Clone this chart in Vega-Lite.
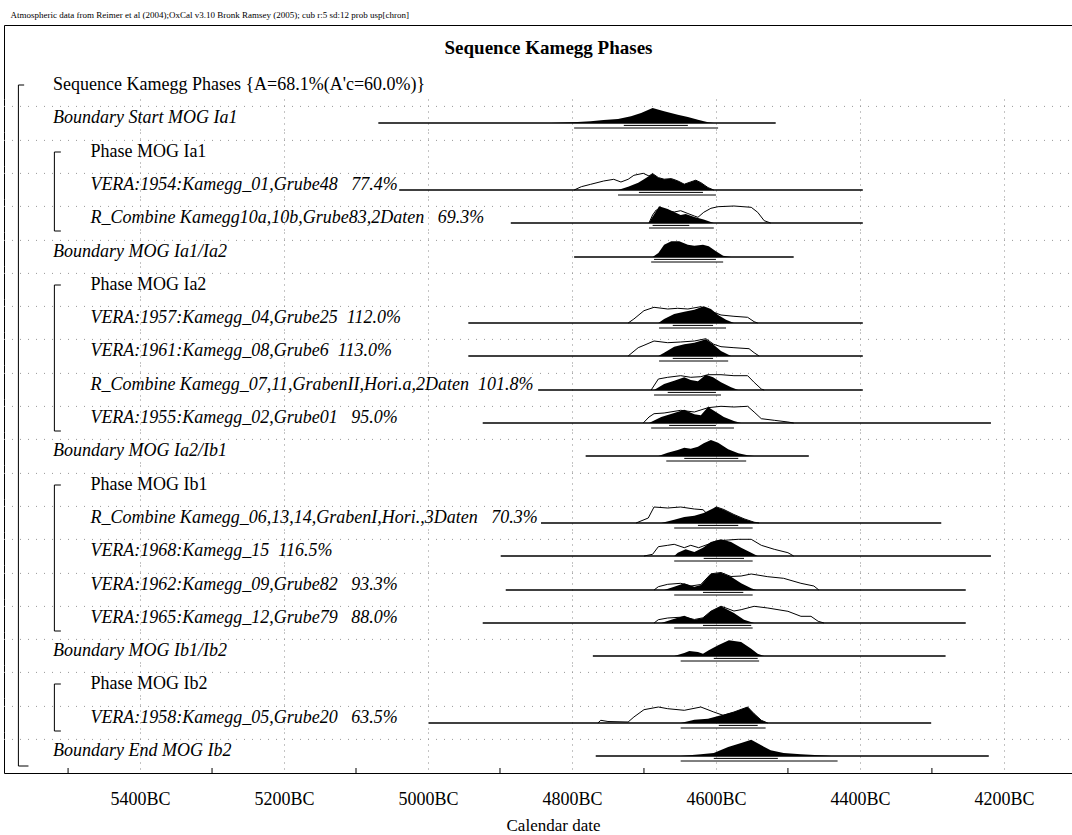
{
"$schema":"https://vega.github.io/schema/vega-lite/v6.json",
"padding":{"left":3,"top":11,"right":0,"bottom":0},
"title":{"text":"Atmospheric data from Reimer et al (2004);OxCal v3.10 Bronk Ramsey (2005); cub r:5 sd:12 prob usp[chron]","anchor":"start","fontSize":9,"fontWeight":"normal","font":"Liberation Serif","color":"black","offset":5,"dx":7},
"spacing":0,
"bounds":"flush",
"resolve":{"scale":{"x":"independent","y":"independent"}},
"config":{"font":"Liberation Serif","view":{"stroke":null},"mark":{"color":"black"},
"axisX":{"grid":true,"gridColor":"#888","gridDash":[1,5],"labels":false,"ticks":false,"domain":false},
"axisY":{"grid":false,"labels":false,"ticks":false,"domain":true,"domainColor":"black"}},
"datasets":{"all":[
{"r":0,"k":"lab","name":"Sequence Kamegg Phases {A=68.1%(A'c=60.0%)}"},
{"r":1,"k":"lab","name":"Boundary Start MOG Ia1"},
{"r":2,"k":"lab","name":"Phase MOG Ia1"},
{"r":3,"k":"lab","name":"VERA:1954:Kamegg_01,Grube48\u00a0\u00a0\u00a077.4%"},
{"r":4,"k":"lab","name":"R_Combine Kamegg10a,10b,Grube83,2Daten\u00a0\u00a0\u00a069.3%"},
{"r":5,"k":"lab","name":"Boundary MOG Ia1/Ia2"},
{"r":6,"k":"lab","name":"Phase MOG Ia2"},
{"r":7,"k":"lab","name":"VERA:1957:Kamegg_04,Grube25\u00a0\u00a0112.0%"},
{"r":8,"k":"lab","name":"VERA:1961:Kamegg_08,Grube6\u00a0\u00a0113.0%"},
{"r":9,"k":"lab","name":"R_Combine Kamegg_07,11,GrabenII,Hori.a,2Daten\u00a0\u00a0101.8%"},
{"r":10,"k":"lab","name":"VERA:1955:Kamegg_02,Grube01\u00a0\u00a0\u00a095.0%"},
{"r":11,"k":"lab","name":"Boundary MOG Ia2/Ib1"},
{"r":12,"k":"lab","name":"Phase MOG Ib1"},
{"r":13,"k":"lab","name":"R_Combine Kamegg_06,13,14,GrabenI,Hori.,3Daten\u00a0\u00a0\u00a070.3%"},
{"r":14,"k":"lab","name":"VERA:1968:Kamegg_15\u00a0\u00a0116.5%"},
{"r":15,"k":"lab","name":"VERA:1962:Kamegg_09,Grube82\u00a0\u00a0\u00a093.3%"},
{"r":16,"k":"lab","name":"VERA:1965:Kamegg_12,Grube79\u00a0\u00a0\u00a088.0%"},
{"r":17,"k":"lab","name":"Boundary MOG Ib1/Ib2"},
{"r":18,"k":"lab","name":"Phase MOG Ib2"},
{"r":19,"k":"lab","name":"VERA:1958:Kamegg_05,Grube20\u00a0\u00a0\u00a063.5%"},
{"r":20,"k":"lab","name":"Boundary End MOG Ib2"},

{"r":1,"k":"post","bc":4829,"p":0},{"r":1,"k":"post","bc":4792,"p":0.05},{"r":1,"k":"post","bc":4774,"p":0.085},{"r":1,"k":"post","bc":4756,"p":0.15},{"r":1,"k":"post","bc":4736,"p":0.2},{"r":1,"k":"post","bc":4718,"p":0.335},{"r":1,"k":"post","bc":4704,"p":0.5},{"r":1,"k":"post","bc":4688,"p":0.75},{"r":1,"k":"post","bc":4672,"p":0.585},{"r":1,"k":"post","bc":4653,"p":0.415},{"r":1,"k":"post","bc":4639,"p":0.3},{"r":1,"k":"post","bc":4625,"p":0.165},{"r":1,"k":"post","bc":4611,"p":0.035},{"r":1,"k":"post","bc":4603,"p":0},
{"r":1,"k":"base","bc":5069,"bc2":4517},{"r":1,"k":"r68","bc":4728,"bc2":4639},{"r":1,"k":"r95","bc":4797,"bc2":4597},

{"r":3,"k":"post","bc":4736,"p":0},{"r":3,"k":"post","bc":4722,"p":0.165},{"r":3,"k":"post","bc":4708,"p":0.365},{"r":3,"k":"post","bc":4700,"p":0.535},{"r":3,"k":"post","bc":4688,"p":0.815},{"r":3,"k":"post","bc":4680,"p":0.615},{"r":3,"k":"post","bc":4672,"p":0.535},{"r":3,"k":"post","bc":4662,"p":0.565},{"r":3,"k":"post","bc":4653,"p":0.45},{"r":3,"k":"post","bc":4644,"p":0.285},{"r":3,"k":"post","bc":4635,"p":0.4},{"r":3,"k":"post","bc":4628,"p":0.485},{"r":3,"k":"post","bc":4621,"p":0.365},{"r":3,"k":"post","bc":4611,"p":0.115},{"r":3,"k":"post","bc":4603,"p":0},
{"r":3,"k":"prior","bc":4797,"p":0},{"r":3,"k":"prior","bc":4787,"p":0.165},{"r":3,"k":"prior","bc":4774,"p":0.285},{"r":3,"k":"prior","bc":4756,"p":0.45},{"r":3,"k":"prior","bc":4742,"p":0.535},{"r":3,"k":"prior","bc":4732,"p":0.4},{"r":3,"k":"prior","bc":4722,"p":0.535},{"r":3,"k":"prior","bc":4714,"p":0.735},{"r":3,"k":"prior","bc":4701,"p":0.835},{"r":3,"k":"prior","bc":4693,"p":0.7},{"r":3,"k":"prior","bc":4688,"p":0.82},{"r":3,"k":"prior","bc":4680,"p":0.62},{"r":3,"k":"prior","bc":4672,"p":0.54},{"r":3,"k":"prior","bc":4662,"p":0.57},{"r":3,"k":"prior","bc":4653,"p":0.455},{"r":3,"k":"prior","bc":4644,"p":0.29},{"r":3,"k":"prior","bc":4635,"p":0.405},{"r":3,"k":"prior","bc":4628,"p":0.49},{"r":3,"k":"prior","bc":4621,"p":0.37},{"r":3,"k":"prior","bc":4611,"p":0.12},{"r":3,"k":"prior","bc":4603,"p":0},
{"r":3,"k":"base","bc":5040,"bc2":4396},{"r":3,"k":"r68","bc":4707,"bc2":4618},{"r":3,"k":"r95","bc":4736,"bc2":4600},

{"r":4,"k":"post","bc":4693,"p":0},{"r":4,"k":"post","bc":4690,"p":0.2},{"r":4,"k":"post","bc":4683,"p":0.6},{"r":4,"k":"post","bc":4679,"p":0.835},{"r":4,"k":"post","bc":4667,"p":0.7},{"r":4,"k":"post","bc":4655,"p":0.5},{"r":4,"k":"post","bc":4649,"p":0.4},{"r":4,"k":"post","bc":4642,"p":0.45},{"r":4,"k":"post","bc":4630,"p":0.3},{"r":4,"k":"post","bc":4617,"p":0.175},{"r":4,"k":"post","bc":4603,"p":0},
{"r":4,"k":"prior","bc":4693,"p":0},{"r":4,"k":"prior","bc":4688,"p":0.4},{"r":4,"k":"prior","bc":4683,"p":0.65},{"r":4,"k":"prior","bc":4675,"p":0.65},{"r":4,"k":"prior","bc":4667,"p":0.6},{"r":4,"k":"prior","bc":4658,"p":0.55},{"r":4,"k":"prior","bc":4649,"p":0.615},{"r":4,"k":"prior","bc":4639,"p":0.475},{"r":4,"k":"prior","bc":4630,"p":0.35},{"r":4,"k":"prior","bc":4625,"p":0.285},{"r":4,"k":"prior","bc":4617,"p":0.535},{"r":4,"k":"prior","bc":4607,"p":0.735},{"r":4,"k":"prior","bc":4597,"p":0.815},{"r":4,"k":"prior","bc":4575,"p":0.85},{"r":4,"k":"prior","bc":4551,"p":0.785},{"r":4,"k":"prior","bc":4542,"p":0.535},{"r":4,"k":"prior","bc":4533,"p":0.115},{"r":4,"k":"prior","bc":4524,"p":0},
{"r":4,"k":"base","bc":4885,"bc2":4396},{"r":4,"k":"r68","bc":4688,"bc2":4637},{"r":4,"k":"r95","bc":4693,"bc2":4603},

{"r":5,"k":"post","bc":4688,"p":0},{"r":5,"k":"post","bc":4680,"p":0.2},{"r":5,"k":"post","bc":4672,"p":0.615},{"r":5,"k":"post","bc":4662,"p":0.785},{"r":5,"k":"post","bc":4651,"p":0.785},{"r":5,"k":"post","bc":4639,"p":0.615},{"r":5,"k":"post","bc":4630,"p":0.565},{"r":5,"k":"post","bc":4618,"p":0.615},{"r":5,"k":"post","bc":4610,"p":0.535},{"r":5,"k":"post","bc":4600,"p":0.285},{"r":5,"k":"post","bc":4590,"p":0.065},{"r":5,"k":"post","bc":4579,"p":0},
{"r":5,"k":"base","bc":4797,"bc2":4492},{"r":5,"k":"r68","bc":4686,"bc2":4600},{"r":5,"k":"r95","bc":4690,"bc2":4590},

{"r":7,"k":"post","bc":4680,"p":0},{"r":7,"k":"post","bc":4672,"p":0.2},{"r":7,"k":"post","bc":4658,"p":0.45},{"r":7,"k":"post","bc":4644,"p":0.565},{"r":7,"k":"post","bc":4630,"p":0.665},{"r":7,"k":"post","bc":4617,"p":0.835},{"r":7,"k":"post","bc":4607,"p":0.7},{"r":7,"k":"post","bc":4597,"p":0.4},{"r":7,"k":"post","bc":4586,"p":0.165},{"r":7,"k":"post","bc":4575,"p":0},
{"r":7,"k":"prior","bc":4722,"p":0},{"r":7,"k":"prior","bc":4714,"p":0.2},{"r":7,"k":"prior","bc":4700,"p":0.615},{"r":7,"k":"prior","bc":4686,"p":0.785},{"r":7,"k":"prior","bc":4667,"p":0.7},{"r":7,"k":"prior","bc":4653,"p":0.735},{"r":7,"k":"prior","bc":4639,"p":0.7},{"r":7,"k":"prior","bc":4621,"p":0.815},{"r":7,"k":"prior","bc":4603,"p":0.535},{"r":7,"k":"prior","bc":4593,"p":0.4},{"r":7,"k":"prior","bc":4575,"p":0.335},{"r":7,"k":"prior","bc":4556,"p":0.285},{"r":7,"k":"prior","bc":4547,"p":0.065},{"r":7,"k":"prior","bc":4542,"p":0},
{"r":7,"k":"base","bc":4944,"bc2":4396},{"r":7,"k":"r68","bc":4660,"bc2":4604},{"r":7,"k":"r95","bc":4679,"bc2":4586},

{"r":8,"k":"post","bc":4680,"p":0},{"r":8,"k":"post","bc":4672,"p":0.165},{"r":8,"k":"post","bc":4658,"p":0.465},{"r":8,"k":"post","bc":4644,"p":0.585},{"r":8,"k":"post","bc":4630,"p":0.665},{"r":8,"k":"post","bc":4614,"p":0.835},{"r":8,"k":"post","bc":4604,"p":0.585},{"r":8,"k":"post","bc":4593,"p":0.25},{"r":8,"k":"post","bc":4579,"p":0},
{"r":8,"k":"prior","bc":4722,"p":0},{"r":8,"k":"prior","bc":4708,"p":0.415},{"r":8,"k":"prior","bc":4700,"p":0.535},{"r":8,"k":"prior","bc":4686,"p":0.75},{"r":8,"k":"prior","bc":4667,"p":0.665},{"r":8,"k":"prior","bc":4649,"p":0.7},{"r":8,"k":"prior","bc":4630,"p":0.75},{"r":8,"k":"prior","bc":4614,"p":0.865},{"r":8,"k":"prior","bc":4603,"p":0.585},{"r":8,"k":"prior","bc":4593,"p":0.465},{"r":8,"k":"prior","bc":4575,"p":0.415},{"r":8,"k":"prior","bc":4554,"p":0.365},{"r":8,"k":"prior","bc":4547,"p":0.165},{"r":8,"k":"prior","bc":4540,"p":0},
{"r":8,"k":"base","bc":4944,"bc2":4396},{"r":8,"k":"r68","bc":4660,"bc2":4604},{"r":8,"k":"r95","bc":4679,"bc2":4583},

{"r":9,"k":"post","bc":4686,"p":0},{"r":9,"k":"post","bc":4672,"p":0.3},{"r":9,"k":"post","bc":4658,"p":0.465},{"r":9,"k":"post","bc":4644,"p":0.635},{"r":9,"k":"post","bc":4635,"p":0.5},{"r":9,"k":"post","bc":4625,"p":0.435},{"r":9,"k":"post","bc":4614,"p":0.765},{"r":9,"k":"post","bc":4604,"p":0.635},{"r":9,"k":"post","bc":4593,"p":0.385},{"r":9,"k":"post","bc":4579,"p":0.135},{"r":9,"k":"post","bc":4569,"p":0},
{"r":9,"k":"prior","bc":4690,"p":0},{"r":9,"k":"prior","bc":4680,"p":0.55},{"r":9,"k":"prior","bc":4667,"p":0.635},{"r":9,"k":"prior","bc":4649,"p":0.715},{"r":9,"k":"prior","bc":4635,"p":0.635},{"r":9,"k":"prior","bc":4621,"p":0.665},{"r":9,"k":"prior","bc":4611,"p":0.765},{"r":9,"k":"prior","bc":4593,"p":0.765},{"r":9,"k":"prior","bc":4575,"p":0.715},{"r":9,"k":"prior","bc":4556,"p":0.715},{"r":9,"k":"prior","bc":4547,"p":0.385},{"r":9,"k":"prior","bc":4537,"p":0.05},{"r":9,"k":"prior","bc":4533,"p":0},
{"r":9,"k":"base","bc":4847,"bc2":4396},{"r":9,"k":"r68","bc":4667,"bc2":4600},{"r":9,"k":"r95","bc":4686,"bc2":4593},

{"r":10,"k":"post","bc":4693,"p":0},{"r":10,"k":"post","bc":4676,"p":0.3},{"r":10,"k":"post","bc":4658,"p":0.5},{"r":10,"k":"post","bc":4644,"p":0.665},{"r":10,"k":"post","bc":4630,"p":0.435},{"r":10,"k":"post","bc":4621,"p":0.385},{"r":10,"k":"post","bc":4611,"p":0.8},{"r":10,"k":"post","bc":4600,"p":0.55},{"r":10,"k":"post","bc":4589,"p":0.3},{"r":10,"k":"post","bc":4575,"p":0.1},{"r":10,"k":"post","bc":4565,"p":0},
{"r":10,"k":"prior","bc":4701,"p":0},{"r":10,"k":"prior","bc":4693,"p":0.3},{"r":10,"k":"prior","bc":4686,"p":0.465},{"r":10,"k":"prior","bc":4672,"p":0.5},{"r":10,"k":"prior","bc":4649,"p":0.635},{"r":10,"k":"prior","bc":4630,"p":0.55},{"r":10,"k":"prior","bc":4611,"p":0.765},{"r":10,"k":"prior","bc":4593,"p":0.835},{"r":10,"k":"prior","bc":4575,"p":0.8},{"r":10,"k":"prior","bc":4556,"p":0.835},{"r":10,"k":"prior","bc":4547,"p":0.55},{"r":10,"k":"prior","bc":4537,"p":0.215},{"r":10,"k":"prior","bc":4519,"p":0.135},{"r":10,"k":"prior","bc":4500,"p":0.05},{"r":10,"k":"prior","bc":4492,"p":0},
{"r":10,"k":"base","bc":4924,"bc2":4218},{"r":10,"k":"r68","bc":4665,"bc2":4600},{"r":10,"k":"r95","bc":4690,"bc2":4575},

{"r":11,"k":"post","bc":4680,"p":0},{"r":11,"k":"post","bc":4667,"p":0.165},{"r":11,"k":"post","bc":4653,"p":0.3},{"r":11,"k":"post","bc":4644,"p":0.415},{"r":11,"k":"post","bc":4635,"p":0.365},{"r":11,"k":"post","bc":4625,"p":0.465},{"r":11,"k":"post","bc":4617,"p":0.635},{"r":11,"k":"post","bc":4607,"p":0.8},{"r":11,"k":"post","bc":4597,"p":0.665},{"r":11,"k":"post","bc":4583,"p":0.335},{"r":11,"k":"post","bc":4569,"p":0.135},{"r":11,"k":"post","bc":4556,"p":0.035},{"r":11,"k":"post","bc":4547,"p":0},
{"r":11,"k":"base","bc":4781,"bc2":4471},{"r":11,"k":"r68","bc":4644,"bc2":4569},{"r":11,"k":"r95","bc":4669,"bc2":4558},

{"r":13,"k":"post","bc":4676,"p":0},{"r":13,"k":"post","bc":4658,"p":0.165},{"r":13,"k":"post","bc":4644,"p":0.3},{"r":13,"k":"post","bc":4630,"p":0.365},{"r":13,"k":"post","bc":4617,"p":0.5},{"r":13,"k":"post","bc":4600,"p":0.8},{"r":13,"k":"post","bc":4589,"p":0.665},{"r":13,"k":"post","bc":4575,"p":0.415},{"r":13,"k":"post","bc":4561,"p":0.2},{"r":13,"k":"post","bc":4547,"p":0.035},{"r":13,"k":"post","bc":4540,"p":0},
{"r":13,"k":"prior","bc":4711,"p":0},{"r":13,"k":"prior","bc":4694,"p":0.25},{"r":13,"k":"prior","bc":4686,"p":0.8},{"r":13,"k":"prior","bc":4667,"p":0.75},{"r":13,"k":"prior","bc":4649,"p":0.8},{"r":13,"k":"prior","bc":4630,"p":0.7},{"r":13,"k":"prior","bc":4618,"p":0.665},{"r":13,"k":"prior","bc":4611,"p":0.415},{"r":13,"k":"prior","bc":4607,"p":0.55},{"r":13,"k":"prior","bc":4600,"p":0.81},{"r":13,"k":"prior","bc":4589,"p":0.675},{"r":13,"k":"prior","bc":4575,"p":0.425},{"r":13,"k":"prior","bc":4561,"p":0.21},{"r":13,"k":"prior","bc":4547,"p":0.04},{"r":13,"k":"prior","bc":4540,"p":0},
{"r":13,"k":"base","bc":4843,"bc2":4287},{"r":13,"k":"r68","bc":4625,"bc2":4569},{"r":13,"k":"r95","bc":4658,"bc2":4549},

{"r":14,"k":"post","bc":4658,"p":0},{"r":14,"k":"post","bc":4653,"p":0.165},{"r":14,"k":"post","bc":4642,"p":0.335},{"r":14,"k":"post","bc":4630,"p":0.2},{"r":14,"k":"post","bc":4618,"p":0.415},{"r":14,"k":"post","bc":4607,"p":0.7},{"r":14,"k":"post","bc":4593,"p":0.835},{"r":14,"k":"post","bc":4579,"p":0.7},{"r":14,"k":"post","bc":4565,"p":0.415},{"r":14,"k":"post","bc":4551,"p":0.165},{"r":14,"k":"post","bc":4542,"p":0},
{"r":14,"k":"prior","bc":4700,"p":0},{"r":14,"k":"prior","bc":4688,"p":0.085},{"r":14,"k":"prior","bc":4680,"p":0.465},{"r":14,"k":"prior","bc":4667,"p":0.535},{"r":14,"k":"prior","bc":4658,"p":0.585},{"r":14,"k":"prior","bc":4644,"p":0.415},{"r":14,"k":"prior","bc":4635,"p":0.535},{"r":14,"k":"prior","bc":4624,"p":0.415},{"r":14,"k":"prior","bc":4611,"p":0.585},{"r":14,"k":"prior","bc":4600,"p":0.75},{"r":14,"k":"prior","bc":4583,"p":0.8},{"r":14,"k":"prior","bc":4569,"p":0.835},{"r":14,"k":"prior","bc":4551,"p":0.835},{"r":14,"k":"prior","bc":4537,"p":0.535},{"r":14,"k":"prior","bc":4519,"p":0.335},{"r":14,"k":"prior","bc":4500,"p":0.165},{"r":14,"k":"prior","bc":4492,"p":0},
{"r":14,"k":"base","bc":4899,"bc2":4218},{"r":14,"k":"r68","bc":4617,"bc2":4561},{"r":14,"k":"r95","bc":4658,"bc2":4549},

{"r":15,"k":"post","bc":4672,"p":0},{"r":15,"k":"post","bc":4658,"p":0.165},{"r":15,"k":"post","bc":4644,"p":0.335},{"r":15,"k":"post","bc":4630,"p":0.165},{"r":15,"k":"post","bc":4621,"p":0.25},{"r":15,"k":"post","bc":4607,"p":0.8},{"r":15,"k":"post","bc":4593,"p":0.865},{"r":15,"k":"post","bc":4579,"p":0.665},{"r":15,"k":"post","bc":4565,"p":0.335},{"r":15,"k":"post","bc":4551,"p":0.085},{"r":15,"k":"post","bc":4544,"p":0},
{"r":15,"k":"prior","bc":4686,"p":0},{"r":15,"k":"prior","bc":4680,"p":0.165},{"r":15,"k":"prior","bc":4667,"p":0.285},{"r":15,"k":"prior","bc":4649,"p":0.335},{"r":15,"k":"prior","bc":4635,"p":0.2},{"r":15,"k":"prior","bc":4621,"p":0.275},{"r":15,"k":"prior","bc":4607,"p":0.81},{"r":15,"k":"prior","bc":4593,"p":0.875},{"r":15,"k":"prior","bc":4579,"p":0.675},{"r":15,"k":"prior","bc":4565,"p":0.7},{"r":15,"k":"prior","bc":4551,"p":0.8},{"r":15,"k":"prior","bc":4528,"p":0.665},{"r":15,"k":"prior","bc":4506,"p":0.585},{"r":15,"k":"prior","bc":4482,"p":0.335},{"r":15,"k":"prior","bc":4464,"p":0.2},{"r":15,"k":"prior","bc":4457,"p":0},
{"r":15,"k":"base","bc":4892,"bc2":4253},{"r":15,"k":"r68","bc":4618,"bc2":4562},{"r":15,"k":"r95","bc":4658,"bc2":4549},

{"r":16,"k":"post","bc":4676,"p":0},{"r":16,"k":"post","bc":4662,"p":0.165},{"r":16,"k":"post","bc":4644,"p":0.365},{"r":16,"k":"post","bc":4630,"p":0.165},{"r":16,"k":"post","bc":4618,"p":0.25},{"r":16,"k":"post","bc":4607,"p":0.585},{"r":16,"k":"post","bc":4593,"p":0.835},{"r":16,"k":"post","bc":4575,"p":0.5},{"r":16,"k":"post","bc":4561,"p":0.165},{"r":16,"k":"post","bc":4547,"p":0},
{"r":16,"k":"prior","bc":4686,"p":0},{"r":16,"k":"prior","bc":4680,"p":0.165},{"r":16,"k":"prior","bc":4667,"p":0.25},{"r":16,"k":"prior","bc":4644,"p":0.3},{"r":16,"k":"prior","bc":4630,"p":0.175},{"r":16,"k":"prior","bc":4618,"p":0.26},{"r":16,"k":"prior","bc":4607,"p":0.59},{"r":16,"k":"prior","bc":4593,"p":0.84},{"r":16,"k":"prior","bc":4575,"p":0.6},{"r":16,"k":"prior","bc":4565,"p":0.665},{"r":16,"k":"prior","bc":4547,"p":0.835},{"r":16,"k":"prior","bc":4528,"p":0.75},{"r":16,"k":"prior","bc":4500,"p":0.585},{"r":16,"k":"prior","bc":4482,"p":0.335},{"r":16,"k":"prior","bc":4468,"p":0.335},{"r":16,"k":"prior","bc":4458,"p":0.085},{"r":16,"k":"prior","bc":4450,"p":0},
{"r":16,"k":"base","bc":4924,"bc2":4253},{"r":16,"k":"r68","bc":4618,"bc2":4551},{"r":16,"k":"r95","bc":4658,"bc2":4549},

{"r":17,"k":"post","bc":4658,"p":0},{"r":17,"k":"post","bc":4644,"p":0.15},{"r":17,"k":"post","bc":4637,"p":0.25},{"r":17,"k":"post","bc":4625,"p":0.2},{"r":17,"k":"post","bc":4618,"p":0.115},{"r":17,"k":"post","bc":4610,"p":0.285},{"r":17,"k":"post","bc":4597,"p":0.535},{"r":17,"k":"post","bc":4582,"p":0.785},{"r":17,"k":"post","bc":4565,"p":0.7},{"r":17,"k":"post","bc":4551,"p":0.365},{"r":17,"k":"post","bc":4542,"p":0.115},{"r":17,"k":"post","bc":4533,"p":0},
{"r":17,"k":"base","bc":4771,"bc2":4281},{"r":17,"k":"r68","bc":4603,"bc2":4542},{"r":17,"k":"r95","bc":4649,"bc2":4540},

{"r":19,"k":"post","bc":4649,"p":0},{"r":19,"k":"post","bc":4630,"p":0.165},{"r":19,"k":"post","bc":4611,"p":0.215},{"r":19,"k":"post","bc":4593,"p":0.385},{"r":19,"k":"post","bc":4575,"p":0.55},{"r":19,"k":"post","bc":4556,"p":0.8},{"r":19,"k":"post","bc":4547,"p":0.465},{"r":19,"k":"post","bc":4537,"p":0.135},{"r":19,"k":"post","bc":4528,"p":0},
{"r":19,"k":"prior","bc":4764,"p":0},{"r":19,"k":"prior","bc":4760,"p":0.135},{"r":19,"k":"prior","bc":4750,"p":0.075},{"r":19,"k":"prior","bc":4722,"p":0.05},{"r":19,"k":"prior","bc":4714,"p":0.3},{"r":19,"k":"prior","bc":4700,"p":0.665},{"r":19,"k":"prior","bc":4680,"p":0.8},{"r":19,"k":"prior","bc":4667,"p":0.715},{"r":19,"k":"prior","bc":4644,"p":0.635},{"r":19,"k":"prior","bc":4621,"p":0.8},{"r":19,"k":"prior","bc":4603,"p":0.55},{"r":19,"k":"prior","bc":4590,"p":0.385},{"r":19,"k":"prior","bc":4575,"p":0.55},{"r":19,"k":"prior","bc":4556,"p":0.8},{"r":19,"k":"prior","bc":4547,"p":0.465},{"r":19,"k":"prior","bc":4537,"p":0.135},{"r":19,"k":"prior","bc":4528,"p":0},
{"r":19,"k":"base","bc":4999,"bc2":4301},{"r":19,"k":"r68","bc":4596,"bc2":4542},{"r":19,"k":"r95","bc":4649,"bc2":4531},

{"r":20,"k":"post","bc":4649,"p":0},{"r":20,"k":"post","bc":4621,"p":0.085},{"r":20,"k":"post","bc":4603,"p":0.15},{"r":20,"k":"post","bc":4583,"p":0.45},{"r":20,"k":"post","bc":4565,"p":0.65},{"r":20,"k":"post","bc":4551,"p":0.815},{"r":20,"k":"post","bc":4537,"p":0.535},{"r":20,"k":"post","bc":4524,"p":0.285},{"r":20,"k":"post","bc":4506,"p":0.15},{"r":20,"k":"post","bc":4482,"p":0.085},{"r":20,"k":"post","bc":4444,"p":0.015},{"r":20,"k":"post","bc":4440,"p":0},
{"r":20,"k":"base","bc":4767,"bc2":4221},{"r":20,"k":"r68","bc":4603,"bc2":4514},{"r":20,"k":"r95","bc":4649,"bc2":4431},
{"r":20,"k":"tick","bc":5500},{"r":20,"k":"tick","bc":5300},{"r":20,"k":"tick","bc":5100},{"r":20,"k":"tick","bc":4900},{"r":20,"k":"tick","bc":4700},{"r":20,"k":"tick","bc":4500},{"r":20,"k":"tick","bc":4300}
]},
"vconcat":[
{"width":1069,"height":74,"data":{"name":"all"},"transform":[{"filter":"datum.r==0"}],"layer":[
{"transform":[{"filter":"datum.k=='lab'"}],"mark":"rule","encoding":{"x":{"datum":5569,"type":"quantitative","scale":{"domain":[5589,4104],"nice":false,"zero":false},"axis":{"orient":"top","grid":false,"domain":true,"domainColor":"black","title":"Sequence Kamegg Phases","titleFontSize":19,"titleFontWeight":"bold","titleColor":"black","titleX":544,"titleY":28,"titleAlign":"center","titleBaseline":"alphabetic","titleAngle":0}},"y":{"datum":0.25,"type":"quantitative","scale":{"domain":[-0.45,3.25],"nice":false,"zero":false},"axis":{"title":null}},"y2":{"datum":-0.45}}},
{"transform":[{"filter":"datum.k=='lab'"}],"mark":"rule","encoding":{"x":{"datum":5569,"type":"quantitative"},"x2":{"datum":5561},"y":{"datum":0.25,"type":"quantitative"}}},
{"transform":[{"filter":"datum.k=='lab'"}],"mark":{"type":"text","align":"left","baseline":"alphabetic","fontSize":18},"encoding":{"x":{"datum":5521,"type":"quantitative"},"y":{"datum":0,"type":"quantitative"},"text":{"field":"name"}}}
]},
{"width":1069,"height":33,"data":{"name":"all"},"transform":[{"filter":"datum.r==1"}],"layer":[
{"transform":[{"filter":"datum.k=='lab'"}],"mark":"rule","encoding":{"x":{"datum":5569,"type":"quantitative","scale":{"domain":[5589,4104],"nice":false,"zero":false},"axis":{"values":[5400,5200,5000,4800,4600,4400,4200],"title":null}},"y":{"datum":1.2,"type":"quantitative","scale":{"domain":[-0.45,1.2],"nice":false,"zero":false},"axis":{"title":null}},"y2":{"datum":-0.45}}},
{"transform":[{"filter":"datum.k=='lab'"}],"mark":{"type":"rule","color":"#999","strokeDash":[1,7]},"encoding":{"x":{"datum":5589,"type":"quantitative"},"x2":{"datum":4104},"y":{"datum":0.83,"type":"quantitative"}}},
{"transform":[{"filter":"datum.k=='base'"}],"mark":{"type":"rule","strokeWidth":1.5},"encoding":{"x":{"field":"bc","type":"quantitative","title":null},"x2":{"field":"bc2"},"y":{"datum":0,"type":"quantitative"}}},
{"transform":[{"filter":"datum.k=='r68'"}],"mark":"rule","encoding":{"x":{"field":"bc","type":"quantitative","title":null},"x2":{"field":"bc2"},"y":{"datum":-0.12,"type":"quantitative"}}},
{"transform":[{"filter":"datum.k=='r95'"}],"mark":"rule","encoding":{"x":{"field":"bc","type":"quantitative","title":null},"x2":{"field":"bc2"},"y":{"datum":-0.25,"type":"quantitative"}}},
{"transform":[{"filter":"datum.k=='post'"}],"mark":"area","encoding":{"x":{"field":"bc","type":"quantitative","title":null},"y":{"field":"p","type":"quantitative","title":null},"y2":{"datum":0}}},
{"transform":[{"filter":"datum.k=='lab'"}],"mark":{"type":"text","align":"left","baseline":"alphabetic","fontSize":18,"fontStyle":"italic"},"encoding":{"x":{"datum":5521,"type":"quantitative"},"y":{"datum":0,"type":"quantitative"},"text":{"field":"name"}}}
]},
{"width":1069,"height":34,"data":{"name":"all"},"transform":[{"filter":"datum.r==2"}],"layer":[
{"transform":[{"filter":"datum.k=='lab'"}],"mark":"rule","encoding":{"x":{"datum":5569,"type":"quantitative","scale":{"domain":[5589,4104],"nice":false,"zero":false},"axis":{"values":[5400,5200,5000,4800,4600,4400,4200],"title":null}},"y":{"datum":1.25,"type":"quantitative","scale":{"domain":[-0.45,1.25],"nice":false,"zero":false},"axis":{"title":null}},"y2":{"datum":-0.45}}},
{"transform":[{"filter":"datum.k=='lab'"}],"mark":{"type":"rule","color":"#999","strokeDash":[1,7]},"encoding":{"x":{"datum":5589,"type":"quantitative"},"x2":{"datum":4104},"y":{"datum":0.83,"type":"quantitative"}}},
{"transform":[{"filter":"datum.k=='lab'"}],"mark":"rule","encoding":{"x":{"datum":5519,"type":"quantitative"},"y":{"datum":0.25,"type":"quantitative"},"y2":{"datum":-0.45}}},
{"transform":[{"filter":"datum.k=='lab'"}],"mark":"rule","encoding":{"x":{"datum":5519,"type":"quantitative"},"x2":{"datum":5510},"y":{"datum":0.25,"type":"quantitative"}}},
{"transform":[{"filter":"datum.k=='lab'"}],"mark":{"type":"text","align":"left","baseline":"alphabetic","fontSize":18},"encoding":{"x":{"datum":5469,"type":"quantitative"},"y":{"datum":0,"type":"quantitative"},"text":{"field":"name"}}}
]},
{"width":1069,"height":33,"data":{"name":"all"},"transform":[{"filter":"datum.r==3"}],"layer":[
{"transform":[{"filter":"datum.k=='lab'"}],"mark":"rule","encoding":{"x":{"datum":5569,"type":"quantitative","scale":{"domain":[5589,4104],"nice":false,"zero":false},"axis":{"values":[5400,5200,5000,4800,4600,4400,4200],"title":null}},"y":{"datum":1.2,"type":"quantitative","scale":{"domain":[-0.45,1.2],"nice":false,"zero":false},"axis":{"title":null}},"y2":{"datum":-0.45}}},
{"transform":[{"filter":"datum.k=='lab'"}],"mark":{"type":"rule","color":"#999","strokeDash":[1,7]},"encoding":{"x":{"datum":5589,"type":"quantitative"},"x2":{"datum":4104},"y":{"datum":0.83,"type":"quantitative"}}},
{"transform":[{"filter":"datum.k=='lab'"}],"mark":"rule","encoding":{"x":{"datum":5519,"type":"quantitative"},"y":{"datum":1.2,"type":"quantitative"},"y2":{"datum":-0.45}}},
{"transform":[{"filter":"datum.k=='base'"}],"mark":{"type":"rule","strokeWidth":1.5},"encoding":{"x":{"field":"bc","type":"quantitative","title":null},"x2":{"field":"bc2"},"y":{"datum":0,"type":"quantitative"}}},
{"transform":[{"filter":"datum.k=='r68'"}],"mark":"rule","encoding":{"x":{"field":"bc","type":"quantitative","title":null},"x2":{"field":"bc2"},"y":{"datum":-0.12,"type":"quantitative"}}},
{"transform":[{"filter":"datum.k=='r95'"}],"mark":"rule","encoding":{"x":{"field":"bc","type":"quantitative","title":null},"x2":{"field":"bc2"},"y":{"datum":-0.25,"type":"quantitative"}}},
{"transform":[{"filter":"datum.k=='prior'"}],"mark":{"type":"line","strokeWidth":1},"encoding":{"x":{"field":"bc","type":"quantitative","title":null},"y":{"field":"p","type":"quantitative","title":null}}},
{"transform":[{"filter":"datum.k=='post'"}],"mark":"area","encoding":{"x":{"field":"bc","type":"quantitative","title":null},"y":{"field":"p","type":"quantitative","title":null},"y2":{"datum":0}}},
{"transform":[{"filter":"datum.k=='lab'"}],"mark":{"type":"text","align":"left","baseline":"alphabetic","fontSize":18,"fontStyle":"italic"},"encoding":{"x":{"datum":5469,"type":"quantitative"},"y":{"datum":0,"type":"quantitative"},"text":{"field":"name"}}}
]},
{"width":1069,"height":33,"data":{"name":"all"},"transform":[{"filter":"datum.r==4"}],"layer":[
{"transform":[{"filter":"datum.k=='lab'"}],"mark":"rule","encoding":{"x":{"datum":5569,"type":"quantitative","scale":{"domain":[5589,4104],"nice":false,"zero":false},"axis":{"values":[5400,5200,5000,4800,4600,4400,4200],"title":null}},"y":{"datum":1.2,"type":"quantitative","scale":{"domain":[-0.45,1.2],"nice":false,"zero":false},"axis":{"title":null}},"y2":{"datum":-0.45}}},
{"transform":[{"filter":"datum.k=='lab'"}],"mark":{"type":"rule","color":"#999","strokeDash":[1,7]},"encoding":{"x":{"datum":5589,"type":"quantitative"},"x2":{"datum":4104},"y":{"datum":0.83,"type":"quantitative"}}},
{"transform":[{"filter":"datum.k=='lab'"}],"mark":"rule","encoding":{"x":{"datum":5519,"type":"quantitative"},"y":{"datum":1.2,"type":"quantitative"},"y2":{"datum":-0.4}}},
{"transform":[{"filter":"datum.k=='lab'"}],"mark":"rule","encoding":{"x":{"datum":5519,"type":"quantitative"},"x2":{"datum":5510},"y":{"datum":-0.4,"type":"quantitative"}}},
{"transform":[{"filter":"datum.k=='base'"}],"mark":{"type":"rule","strokeWidth":1.5},"encoding":{"x":{"field":"bc","type":"quantitative","title":null},"x2":{"field":"bc2"},"y":{"datum":0,"type":"quantitative"}}},
{"transform":[{"filter":"datum.k=='r68'"}],"mark":"rule","encoding":{"x":{"field":"bc","type":"quantitative","title":null},"x2":{"field":"bc2"},"y":{"datum":-0.12,"type":"quantitative"}}},
{"transform":[{"filter":"datum.k=='r95'"}],"mark":"rule","encoding":{"x":{"field":"bc","type":"quantitative","title":null},"x2":{"field":"bc2"},"y":{"datum":-0.25,"type":"quantitative"}}},
{"transform":[{"filter":"datum.k=='prior'"}],"mark":{"type":"line","strokeWidth":1},"encoding":{"x":{"field":"bc","type":"quantitative","title":null},"y":{"field":"p","type":"quantitative","title":null}}},
{"transform":[{"filter":"datum.k=='post'"}],"mark":"area","encoding":{"x":{"field":"bc","type":"quantitative","title":null},"y":{"field":"p","type":"quantitative","title":null},"y2":{"datum":0}}},
{"transform":[{"filter":"datum.k=='lab'"}],"mark":{"type":"text","align":"left","baseline":"alphabetic","fontSize":18,"fontStyle":"italic"},"encoding":{"x":{"datum":5469,"type":"quantitative"},"y":{"datum":0,"type":"quantitative"},"text":{"field":"name"}}}
]},
{"width":1069,"height":34,"data":{"name":"all"},"transform":[{"filter":"datum.r==5"}],"layer":[
{"transform":[{"filter":"datum.k=='lab'"}],"mark":"rule","encoding":{"x":{"datum":5569,"type":"quantitative","scale":{"domain":[5589,4104],"nice":false,"zero":false},"axis":{"values":[5400,5200,5000,4800,4600,4400,4200],"title":null}},"y":{"datum":1.25,"type":"quantitative","scale":{"domain":[-0.45,1.25],"nice":false,"zero":false},"axis":{"title":null}},"y2":{"datum":-0.45}}},
{"transform":[{"filter":"datum.k=='lab'"}],"mark":{"type":"rule","color":"#999","strokeDash":[1,7]},"encoding":{"x":{"datum":5589,"type":"quantitative"},"x2":{"datum":4104},"y":{"datum":0.83,"type":"quantitative"}}},
{"transform":[{"filter":"datum.k=='base'"}],"mark":{"type":"rule","strokeWidth":1.5},"encoding":{"x":{"field":"bc","type":"quantitative","title":null},"x2":{"field":"bc2"},"y":{"datum":0,"type":"quantitative"}}},
{"transform":[{"filter":"datum.k=='r68'"}],"mark":"rule","encoding":{"x":{"field":"bc","type":"quantitative","title":null},"x2":{"field":"bc2"},"y":{"datum":-0.12,"type":"quantitative"}}},
{"transform":[{"filter":"datum.k=='r95'"}],"mark":"rule","encoding":{"x":{"field":"bc","type":"quantitative","title":null},"x2":{"field":"bc2"},"y":{"datum":-0.25,"type":"quantitative"}}},
{"transform":[{"filter":"datum.k=='post'"}],"mark":"area","encoding":{"x":{"field":"bc","type":"quantitative","title":null},"y":{"field":"p","type":"quantitative","title":null},"y2":{"datum":0}}},
{"transform":[{"filter":"datum.k=='lab'"}],"mark":{"type":"text","align":"left","baseline":"alphabetic","fontSize":18,"fontStyle":"italic"},"encoding":{"x":{"datum":5521,"type":"quantitative"},"y":{"datum":0,"type":"quantitative"},"text":{"field":"name"}}}
]},
{"width":1069,"height":33,"data":{"name":"all"},"transform":[{"filter":"datum.r==6"}],"layer":[
{"transform":[{"filter":"datum.k=='lab'"}],"mark":"rule","encoding":{"x":{"datum":5569,"type":"quantitative","scale":{"domain":[5589,4104],"nice":false,"zero":false},"axis":{"values":[5400,5200,5000,4800,4600,4400,4200],"title":null}},"y":{"datum":1.2,"type":"quantitative","scale":{"domain":[-0.45,1.2],"nice":false,"zero":false},"axis":{"title":null}},"y2":{"datum":-0.45}}},
{"transform":[{"filter":"datum.k=='lab'"}],"mark":{"type":"rule","color":"#999","strokeDash":[1,7]},"encoding":{"x":{"datum":5589,"type":"quantitative"},"x2":{"datum":4104},"y":{"datum":0.83,"type":"quantitative"}}},
{"transform":[{"filter":"datum.k=='lab'"}],"mark":"rule","encoding":{"x":{"datum":5519,"type":"quantitative"},"y":{"datum":0.25,"type":"quantitative"},"y2":{"datum":-0.45}}},
{"transform":[{"filter":"datum.k=='lab'"}],"mark":"rule","encoding":{"x":{"datum":5519,"type":"quantitative"},"x2":{"datum":5510},"y":{"datum":0.25,"type":"quantitative"}}},
{"transform":[{"filter":"datum.k=='lab'"}],"mark":{"type":"text","align":"left","baseline":"alphabetic","fontSize":18},"encoding":{"x":{"datum":5469,"type":"quantitative"},"y":{"datum":0,"type":"quantitative"},"text":{"field":"name"}}}
]},
{"width":1069,"height":33,"data":{"name":"all"},"transform":[{"filter":"datum.r==7"}],"layer":[
{"transform":[{"filter":"datum.k=='lab'"}],"mark":"rule","encoding":{"x":{"datum":5569,"type":"quantitative","scale":{"domain":[5589,4104],"nice":false,"zero":false},"axis":{"values":[5400,5200,5000,4800,4600,4400,4200],"title":null}},"y":{"datum":1.2,"type":"quantitative","scale":{"domain":[-0.45,1.2],"nice":false,"zero":false},"axis":{"title":null}},"y2":{"datum":-0.45}}},
{"transform":[{"filter":"datum.k=='lab'"}],"mark":{"type":"rule","color":"#999","strokeDash":[1,7]},"encoding":{"x":{"datum":5589,"type":"quantitative"},"x2":{"datum":4104},"y":{"datum":0.83,"type":"quantitative"}}},
{"transform":[{"filter":"datum.k=='lab'"}],"mark":"rule","encoding":{"x":{"datum":5519,"type":"quantitative"},"y":{"datum":1.2,"type":"quantitative"},"y2":{"datum":-0.45}}},
{"transform":[{"filter":"datum.k=='base'"}],"mark":{"type":"rule","strokeWidth":1.5},"encoding":{"x":{"field":"bc","type":"quantitative","title":null},"x2":{"field":"bc2"},"y":{"datum":0,"type":"quantitative"}}},
{"transform":[{"filter":"datum.k=='r68'"}],"mark":"rule","encoding":{"x":{"field":"bc","type":"quantitative","title":null},"x2":{"field":"bc2"},"y":{"datum":-0.12,"type":"quantitative"}}},
{"transform":[{"filter":"datum.k=='r95'"}],"mark":"rule","encoding":{"x":{"field":"bc","type":"quantitative","title":null},"x2":{"field":"bc2"},"y":{"datum":-0.25,"type":"quantitative"}}},
{"transform":[{"filter":"datum.k=='prior'"}],"mark":{"type":"line","strokeWidth":1},"encoding":{"x":{"field":"bc","type":"quantitative","title":null},"y":{"field":"p","type":"quantitative","title":null}}},
{"transform":[{"filter":"datum.k=='post'"}],"mark":"area","encoding":{"x":{"field":"bc","type":"quantitative","title":null},"y":{"field":"p","type":"quantitative","title":null},"y2":{"datum":0}}},
{"transform":[{"filter":"datum.k=='lab'"}],"mark":{"type":"text","align":"left","baseline":"alphabetic","fontSize":18,"fontStyle":"italic"},"encoding":{"x":{"datum":5469,"type":"quantitative"},"y":{"datum":0,"type":"quantitative"},"text":{"field":"name"}}}
]},
{"width":1069,"height":33,"data":{"name":"all"},"transform":[{"filter":"datum.r==8"}],"layer":[
{"transform":[{"filter":"datum.k=='lab'"}],"mark":"rule","encoding":{"x":{"datum":5569,"type":"quantitative","scale":{"domain":[5589,4104],"nice":false,"zero":false},"axis":{"values":[5400,5200,5000,4800,4600,4400,4200],"title":null}},"y":{"datum":1.2,"type":"quantitative","scale":{"domain":[-0.45,1.2],"nice":false,"zero":false},"axis":{"title":null}},"y2":{"datum":-0.45}}},
{"transform":[{"filter":"datum.k=='lab'"}],"mark":{"type":"rule","color":"#999","strokeDash":[1,7]},"encoding":{"x":{"datum":5589,"type":"quantitative"},"x2":{"datum":4104},"y":{"datum":0.83,"type":"quantitative"}}},
{"transform":[{"filter":"datum.k=='lab'"}],"mark":"rule","encoding":{"x":{"datum":5519,"type":"quantitative"},"y":{"datum":1.2,"type":"quantitative"},"y2":{"datum":-0.45}}},
{"transform":[{"filter":"datum.k=='base'"}],"mark":{"type":"rule","strokeWidth":1.5},"encoding":{"x":{"field":"bc","type":"quantitative","title":null},"x2":{"field":"bc2"},"y":{"datum":0,"type":"quantitative"}}},
{"transform":[{"filter":"datum.k=='r68'"}],"mark":"rule","encoding":{"x":{"field":"bc","type":"quantitative","title":null},"x2":{"field":"bc2"},"y":{"datum":-0.12,"type":"quantitative"}}},
{"transform":[{"filter":"datum.k=='r95'"}],"mark":"rule","encoding":{"x":{"field":"bc","type":"quantitative","title":null},"x2":{"field":"bc2"},"y":{"datum":-0.25,"type":"quantitative"}}},
{"transform":[{"filter":"datum.k=='prior'"}],"mark":{"type":"line","strokeWidth":1},"encoding":{"x":{"field":"bc","type":"quantitative","title":null},"y":{"field":"p","type":"quantitative","title":null}}},
{"transform":[{"filter":"datum.k=='post'"}],"mark":"area","encoding":{"x":{"field":"bc","type":"quantitative","title":null},"y":{"field":"p","type":"quantitative","title":null},"y2":{"datum":0}}},
{"transform":[{"filter":"datum.k=='lab'"}],"mark":{"type":"text","align":"left","baseline":"alphabetic","fontSize":18,"fontStyle":"italic"},"encoding":{"x":{"datum":5469,"type":"quantitative"},"y":{"datum":0,"type":"quantitative"},"text":{"field":"name"}}}
]},
{"width":1069,"height":34,"data":{"name":"all"},"transform":[{"filter":"datum.r==9"}],"layer":[
{"transform":[{"filter":"datum.k=='lab'"}],"mark":"rule","encoding":{"x":{"datum":5569,"type":"quantitative","scale":{"domain":[5589,4104],"nice":false,"zero":false},"axis":{"values":[5400,5200,5000,4800,4600,4400,4200],"title":null}},"y":{"datum":1.25,"type":"quantitative","scale":{"domain":[-0.45,1.25],"nice":false,"zero":false},"axis":{"title":null}},"y2":{"datum":-0.45}}},
{"transform":[{"filter":"datum.k=='lab'"}],"mark":{"type":"rule","color":"#999","strokeDash":[1,7]},"encoding":{"x":{"datum":5589,"type":"quantitative"},"x2":{"datum":4104},"y":{"datum":0.83,"type":"quantitative"}}},
{"transform":[{"filter":"datum.k=='lab'"}],"mark":"rule","encoding":{"x":{"datum":5519,"type":"quantitative"},"y":{"datum":1.25,"type":"quantitative"},"y2":{"datum":-0.45}}},
{"transform":[{"filter":"datum.k=='base'"}],"mark":{"type":"rule","strokeWidth":1.5},"encoding":{"x":{"field":"bc","type":"quantitative","title":null},"x2":{"field":"bc2"},"y":{"datum":0,"type":"quantitative"}}},
{"transform":[{"filter":"datum.k=='r68'"}],"mark":"rule","encoding":{"x":{"field":"bc","type":"quantitative","title":null},"x2":{"field":"bc2"},"y":{"datum":-0.12,"type":"quantitative"}}},
{"transform":[{"filter":"datum.k=='r95'"}],"mark":"rule","encoding":{"x":{"field":"bc","type":"quantitative","title":null},"x2":{"field":"bc2"},"y":{"datum":-0.25,"type":"quantitative"}}},
{"transform":[{"filter":"datum.k=='prior'"}],"mark":{"type":"line","strokeWidth":1},"encoding":{"x":{"field":"bc","type":"quantitative","title":null},"y":{"field":"p","type":"quantitative","title":null}}},
{"transform":[{"filter":"datum.k=='post'"}],"mark":"area","encoding":{"x":{"field":"bc","type":"quantitative","title":null},"y":{"field":"p","type":"quantitative","title":null},"y2":{"datum":0}}},
{"transform":[{"filter":"datum.k=='lab'"}],"mark":{"type":"text","align":"left","baseline":"alphabetic","fontSize":18,"fontStyle":"italic"},"encoding":{"x":{"datum":5469,"type":"quantitative"},"y":{"datum":0,"type":"quantitative"},"text":{"field":"name"}}}
]},
{"width":1069,"height":33,"data":{"name":"all"},"transform":[{"filter":"datum.r==10"}],"layer":[
{"transform":[{"filter":"datum.k=='lab'"}],"mark":"rule","encoding":{"x":{"datum":5569,"type":"quantitative","scale":{"domain":[5589,4104],"nice":false,"zero":false},"axis":{"values":[5400,5200,5000,4800,4600,4400,4200],"title":null}},"y":{"datum":1.2,"type":"quantitative","scale":{"domain":[-0.45,1.2],"nice":false,"zero":false},"axis":{"title":null}},"y2":{"datum":-0.45}}},
{"transform":[{"filter":"datum.k=='lab'"}],"mark":{"type":"rule","color":"#999","strokeDash":[1,7]},"encoding":{"x":{"datum":5589,"type":"quantitative"},"x2":{"datum":4104},"y":{"datum":0.83,"type":"quantitative"}}},
{"transform":[{"filter":"datum.k=='lab'"}],"mark":"rule","encoding":{"x":{"datum":5519,"type":"quantitative"},"y":{"datum":1.2,"type":"quantitative"},"y2":{"datum":-0.4}}},
{"transform":[{"filter":"datum.k=='lab'"}],"mark":"rule","encoding":{"x":{"datum":5519,"type":"quantitative"},"x2":{"datum":5510},"y":{"datum":-0.4,"type":"quantitative"}}},
{"transform":[{"filter":"datum.k=='base'"}],"mark":{"type":"rule","strokeWidth":1.5},"encoding":{"x":{"field":"bc","type":"quantitative","title":null},"x2":{"field":"bc2"},"y":{"datum":0,"type":"quantitative"}}},
{"transform":[{"filter":"datum.k=='r68'"}],"mark":"rule","encoding":{"x":{"field":"bc","type":"quantitative","title":null},"x2":{"field":"bc2"},"y":{"datum":-0.12,"type":"quantitative"}}},
{"transform":[{"filter":"datum.k=='r95'"}],"mark":"rule","encoding":{"x":{"field":"bc","type":"quantitative","title":null},"x2":{"field":"bc2"},"y":{"datum":-0.25,"type":"quantitative"}}},
{"transform":[{"filter":"datum.k=='prior'"}],"mark":{"type":"line","strokeWidth":1},"encoding":{"x":{"field":"bc","type":"quantitative","title":null},"y":{"field":"p","type":"quantitative","title":null}}},
{"transform":[{"filter":"datum.k=='post'"}],"mark":"area","encoding":{"x":{"field":"bc","type":"quantitative","title":null},"y":{"field":"p","type":"quantitative","title":null},"y2":{"datum":0}}},
{"transform":[{"filter":"datum.k=='lab'"}],"mark":{"type":"text","align":"left","baseline":"alphabetic","fontSize":18,"fontStyle":"italic"},"encoding":{"x":{"datum":5469,"type":"quantitative"},"y":{"datum":0,"type":"quantitative"},"text":{"field":"name"}}}
]},
{"width":1069,"height":33,"data":{"name":"all"},"transform":[{"filter":"datum.r==11"}],"layer":[
{"transform":[{"filter":"datum.k=='lab'"}],"mark":"rule","encoding":{"x":{"datum":5569,"type":"quantitative","scale":{"domain":[5589,4104],"nice":false,"zero":false},"axis":{"values":[5400,5200,5000,4800,4600,4400,4200],"title":null}},"y":{"datum":1.2,"type":"quantitative","scale":{"domain":[-0.45,1.2],"nice":false,"zero":false},"axis":{"title":null}},"y2":{"datum":-0.45}}},
{"transform":[{"filter":"datum.k=='lab'"}],"mark":{"type":"rule","color":"#999","strokeDash":[1,7]},"encoding":{"x":{"datum":5589,"type":"quantitative"},"x2":{"datum":4104},"y":{"datum":0.83,"type":"quantitative"}}},
{"transform":[{"filter":"datum.k=='base'"}],"mark":{"type":"rule","strokeWidth":1.5},"encoding":{"x":{"field":"bc","type":"quantitative","title":null},"x2":{"field":"bc2"},"y":{"datum":0,"type":"quantitative"}}},
{"transform":[{"filter":"datum.k=='r68'"}],"mark":"rule","encoding":{"x":{"field":"bc","type":"quantitative","title":null},"x2":{"field":"bc2"},"y":{"datum":-0.12,"type":"quantitative"}}},
{"transform":[{"filter":"datum.k=='r95'"}],"mark":"rule","encoding":{"x":{"field":"bc","type":"quantitative","title":null},"x2":{"field":"bc2"},"y":{"datum":-0.25,"type":"quantitative"}}},
{"transform":[{"filter":"datum.k=='post'"}],"mark":"area","encoding":{"x":{"field":"bc","type":"quantitative","title":null},"y":{"field":"p","type":"quantitative","title":null},"y2":{"datum":0}}},
{"transform":[{"filter":"datum.k=='lab'"}],"mark":{"type":"text","align":"left","baseline":"alphabetic","fontSize":18,"fontStyle":"italic"},"encoding":{"x":{"datum":5521,"type":"quantitative"},"y":{"datum":0,"type":"quantitative"},"text":{"field":"name"}}}
]},
{"width":1069,"height":34,"data":{"name":"all"},"transform":[{"filter":"datum.r==12"}],"layer":[
{"transform":[{"filter":"datum.k=='lab'"}],"mark":"rule","encoding":{"x":{"datum":5569,"type":"quantitative","scale":{"domain":[5589,4104],"nice":false,"zero":false},"axis":{"values":[5400,5200,5000,4800,4600,4400,4200],"title":null}},"y":{"datum":1.25,"type":"quantitative","scale":{"domain":[-0.45,1.25],"nice":false,"zero":false},"axis":{"title":null}},"y2":{"datum":-0.45}}},
{"transform":[{"filter":"datum.k=='lab'"}],"mark":{"type":"rule","color":"#999","strokeDash":[1,7]},"encoding":{"x":{"datum":5589,"type":"quantitative"},"x2":{"datum":4104},"y":{"datum":0.83,"type":"quantitative"}}},
{"transform":[{"filter":"datum.k=='lab'"}],"mark":"rule","encoding":{"x":{"datum":5519,"type":"quantitative"},"y":{"datum":0.25,"type":"quantitative"},"y2":{"datum":-0.45}}},
{"transform":[{"filter":"datum.k=='lab'"}],"mark":"rule","encoding":{"x":{"datum":5519,"type":"quantitative"},"x2":{"datum":5510},"y":{"datum":0.25,"type":"quantitative"}}},
{"transform":[{"filter":"datum.k=='lab'"}],"mark":{"type":"text","align":"left","baseline":"alphabetic","fontSize":18},"encoding":{"x":{"datum":5469,"type":"quantitative"},"y":{"datum":0,"type":"quantitative"},"text":{"field":"name"}}}
]},
{"width":1069,"height":33,"data":{"name":"all"},"transform":[{"filter":"datum.r==13"}],"layer":[
{"transform":[{"filter":"datum.k=='lab'"}],"mark":"rule","encoding":{"x":{"datum":5569,"type":"quantitative","scale":{"domain":[5589,4104],"nice":false,"zero":false},"axis":{"values":[5400,5200,5000,4800,4600,4400,4200],"title":null}},"y":{"datum":1.2,"type":"quantitative","scale":{"domain":[-0.45,1.2],"nice":false,"zero":false},"axis":{"title":null}},"y2":{"datum":-0.45}}},
{"transform":[{"filter":"datum.k=='lab'"}],"mark":{"type":"rule","color":"#999","strokeDash":[1,7]},"encoding":{"x":{"datum":5589,"type":"quantitative"},"x2":{"datum":4104},"y":{"datum":0.83,"type":"quantitative"}}},
{"transform":[{"filter":"datum.k=='lab'"}],"mark":"rule","encoding":{"x":{"datum":5519,"type":"quantitative"},"y":{"datum":1.2,"type":"quantitative"},"y2":{"datum":-0.45}}},
{"transform":[{"filter":"datum.k=='base'"}],"mark":{"type":"rule","strokeWidth":1.5},"encoding":{"x":{"field":"bc","type":"quantitative","title":null},"x2":{"field":"bc2"},"y":{"datum":0,"type":"quantitative"}}},
{"transform":[{"filter":"datum.k=='r68'"}],"mark":"rule","encoding":{"x":{"field":"bc","type":"quantitative","title":null},"x2":{"field":"bc2"},"y":{"datum":-0.12,"type":"quantitative"}}},
{"transform":[{"filter":"datum.k=='r95'"}],"mark":"rule","encoding":{"x":{"field":"bc","type":"quantitative","title":null},"x2":{"field":"bc2"},"y":{"datum":-0.25,"type":"quantitative"}}},
{"transform":[{"filter":"datum.k=='prior'"}],"mark":{"type":"line","strokeWidth":1},"encoding":{"x":{"field":"bc","type":"quantitative","title":null},"y":{"field":"p","type":"quantitative","title":null}}},
{"transform":[{"filter":"datum.k=='post'"}],"mark":"area","encoding":{"x":{"field":"bc","type":"quantitative","title":null},"y":{"field":"p","type":"quantitative","title":null},"y2":{"datum":0}}},
{"transform":[{"filter":"datum.k=='lab'"}],"mark":{"type":"text","align":"left","baseline":"alphabetic","fontSize":18,"fontStyle":"italic"},"encoding":{"x":{"datum":5469,"type":"quantitative"},"y":{"datum":0,"type":"quantitative"},"text":{"field":"name"}}}
]},
{"width":1069,"height":33,"data":{"name":"all"},"transform":[{"filter":"datum.r==14"}],"layer":[
{"transform":[{"filter":"datum.k=='lab'"}],"mark":"rule","encoding":{"x":{"datum":5569,"type":"quantitative","scale":{"domain":[5589,4104],"nice":false,"zero":false},"axis":{"values":[5400,5200,5000,4800,4600,4400,4200],"title":null}},"y":{"datum":1.2,"type":"quantitative","scale":{"domain":[-0.45,1.2],"nice":false,"zero":false},"axis":{"title":null}},"y2":{"datum":-0.45}}},
{"transform":[{"filter":"datum.k=='lab'"}],"mark":{"type":"rule","color":"#999","strokeDash":[1,7]},"encoding":{"x":{"datum":5589,"type":"quantitative"},"x2":{"datum":4104},"y":{"datum":0.83,"type":"quantitative"}}},
{"transform":[{"filter":"datum.k=='lab'"}],"mark":"rule","encoding":{"x":{"datum":5519,"type":"quantitative"},"y":{"datum":1.2,"type":"quantitative"},"y2":{"datum":-0.45}}},
{"transform":[{"filter":"datum.k=='base'"}],"mark":{"type":"rule","strokeWidth":1.5},"encoding":{"x":{"field":"bc","type":"quantitative","title":null},"x2":{"field":"bc2"},"y":{"datum":0,"type":"quantitative"}}},
{"transform":[{"filter":"datum.k=='r68'"}],"mark":"rule","encoding":{"x":{"field":"bc","type":"quantitative","title":null},"x2":{"field":"bc2"},"y":{"datum":-0.12,"type":"quantitative"}}},
{"transform":[{"filter":"datum.k=='r95'"}],"mark":"rule","encoding":{"x":{"field":"bc","type":"quantitative","title":null},"x2":{"field":"bc2"},"y":{"datum":-0.25,"type":"quantitative"}}},
{"transform":[{"filter":"datum.k=='prior'"}],"mark":{"type":"line","strokeWidth":1},"encoding":{"x":{"field":"bc","type":"quantitative","title":null},"y":{"field":"p","type":"quantitative","title":null}}},
{"transform":[{"filter":"datum.k=='post'"}],"mark":"area","encoding":{"x":{"field":"bc","type":"quantitative","title":null},"y":{"field":"p","type":"quantitative","title":null},"y2":{"datum":0}}},
{"transform":[{"filter":"datum.k=='lab'"}],"mark":{"type":"text","align":"left","baseline":"alphabetic","fontSize":18,"fontStyle":"italic"},"encoding":{"x":{"datum":5469,"type":"quantitative"},"y":{"datum":0,"type":"quantitative"},"text":{"field":"name"}}}
]},
{"width":1069,"height":34,"data":{"name":"all"},"transform":[{"filter":"datum.r==15"}],"layer":[
{"transform":[{"filter":"datum.k=='lab'"}],"mark":"rule","encoding":{"x":{"datum":5569,"type":"quantitative","scale":{"domain":[5589,4104],"nice":false,"zero":false},"axis":{"values":[5400,5200,5000,4800,4600,4400,4200],"title":null}},"y":{"datum":1.25,"type":"quantitative","scale":{"domain":[-0.45,1.25],"nice":false,"zero":false},"axis":{"title":null}},"y2":{"datum":-0.45}}},
{"transform":[{"filter":"datum.k=='lab'"}],"mark":{"type":"rule","color":"#999","strokeDash":[1,7]},"encoding":{"x":{"datum":5589,"type":"quantitative"},"x2":{"datum":4104},"y":{"datum":0.83,"type":"quantitative"}}},
{"transform":[{"filter":"datum.k=='lab'"}],"mark":"rule","encoding":{"x":{"datum":5519,"type":"quantitative"},"y":{"datum":1.25,"type":"quantitative"},"y2":{"datum":-0.45}}},
{"transform":[{"filter":"datum.k=='base'"}],"mark":{"type":"rule","strokeWidth":1.5},"encoding":{"x":{"field":"bc","type":"quantitative","title":null},"x2":{"field":"bc2"},"y":{"datum":0,"type":"quantitative"}}},
{"transform":[{"filter":"datum.k=='r68'"}],"mark":"rule","encoding":{"x":{"field":"bc","type":"quantitative","title":null},"x2":{"field":"bc2"},"y":{"datum":-0.12,"type":"quantitative"}}},
{"transform":[{"filter":"datum.k=='r95'"}],"mark":"rule","encoding":{"x":{"field":"bc","type":"quantitative","title":null},"x2":{"field":"bc2"},"y":{"datum":-0.25,"type":"quantitative"}}},
{"transform":[{"filter":"datum.k=='prior'"}],"mark":{"type":"line","strokeWidth":1},"encoding":{"x":{"field":"bc","type":"quantitative","title":null},"y":{"field":"p","type":"quantitative","title":null}}},
{"transform":[{"filter":"datum.k=='post'"}],"mark":"area","encoding":{"x":{"field":"bc","type":"quantitative","title":null},"y":{"field":"p","type":"quantitative","title":null},"y2":{"datum":0}}},
{"transform":[{"filter":"datum.k=='lab'"}],"mark":{"type":"text","align":"left","baseline":"alphabetic","fontSize":18,"fontStyle":"italic"},"encoding":{"x":{"datum":5469,"type":"quantitative"},"y":{"datum":0,"type":"quantitative"},"text":{"field":"name"}}}
]},
{"width":1069,"height":33,"data":{"name":"all"},"transform":[{"filter":"datum.r==16"}],"layer":[
{"transform":[{"filter":"datum.k=='lab'"}],"mark":"rule","encoding":{"x":{"datum":5569,"type":"quantitative","scale":{"domain":[5589,4104],"nice":false,"zero":false},"axis":{"values":[5400,5200,5000,4800,4600,4400,4200],"title":null}},"y":{"datum":1.2,"type":"quantitative","scale":{"domain":[-0.45,1.2],"nice":false,"zero":false},"axis":{"title":null}},"y2":{"datum":-0.45}}},
{"transform":[{"filter":"datum.k=='lab'"}],"mark":{"type":"rule","color":"#999","strokeDash":[1,7]},"encoding":{"x":{"datum":5589,"type":"quantitative"},"x2":{"datum":4104},"y":{"datum":0.83,"type":"quantitative"}}},
{"transform":[{"filter":"datum.k=='lab'"}],"mark":"rule","encoding":{"x":{"datum":5519,"type":"quantitative"},"y":{"datum":1.2,"type":"quantitative"},"y2":{"datum":-0.4}}},
{"transform":[{"filter":"datum.k=='lab'"}],"mark":"rule","encoding":{"x":{"datum":5519,"type":"quantitative"},"x2":{"datum":5510},"y":{"datum":-0.4,"type":"quantitative"}}},
{"transform":[{"filter":"datum.k=='base'"}],"mark":{"type":"rule","strokeWidth":1.5},"encoding":{"x":{"field":"bc","type":"quantitative","title":null},"x2":{"field":"bc2"},"y":{"datum":0,"type":"quantitative"}}},
{"transform":[{"filter":"datum.k=='r68'"}],"mark":"rule","encoding":{"x":{"field":"bc","type":"quantitative","title":null},"x2":{"field":"bc2"},"y":{"datum":-0.12,"type":"quantitative"}}},
{"transform":[{"filter":"datum.k=='r95'"}],"mark":"rule","encoding":{"x":{"field":"bc","type":"quantitative","title":null},"x2":{"field":"bc2"},"y":{"datum":-0.25,"type":"quantitative"}}},
{"transform":[{"filter":"datum.k=='prior'"}],"mark":{"type":"line","strokeWidth":1},"encoding":{"x":{"field":"bc","type":"quantitative","title":null},"y":{"field":"p","type":"quantitative","title":null}}},
{"transform":[{"filter":"datum.k=='post'"}],"mark":"area","encoding":{"x":{"field":"bc","type":"quantitative","title":null},"y":{"field":"p","type":"quantitative","title":null},"y2":{"datum":0}}},
{"transform":[{"filter":"datum.k=='lab'"}],"mark":{"type":"text","align":"left","baseline":"alphabetic","fontSize":18,"fontStyle":"italic"},"encoding":{"x":{"datum":5469,"type":"quantitative"},"y":{"datum":0,"type":"quantitative"},"text":{"field":"name"}}}
]},
{"width":1069,"height":33,"data":{"name":"all"},"transform":[{"filter":"datum.r==17"}],"layer":[
{"transform":[{"filter":"datum.k=='lab'"}],"mark":"rule","encoding":{"x":{"datum":5569,"type":"quantitative","scale":{"domain":[5589,4104],"nice":false,"zero":false},"axis":{"values":[5400,5200,5000,4800,4600,4400,4200],"title":null}},"y":{"datum":1.2,"type":"quantitative","scale":{"domain":[-0.45,1.2],"nice":false,"zero":false},"axis":{"title":null}},"y2":{"datum":-0.45}}},
{"transform":[{"filter":"datum.k=='lab'"}],"mark":{"type":"rule","color":"#999","strokeDash":[1,7]},"encoding":{"x":{"datum":5589,"type":"quantitative"},"x2":{"datum":4104},"y":{"datum":0.83,"type":"quantitative"}}},
{"transform":[{"filter":"datum.k=='base'"}],"mark":{"type":"rule","strokeWidth":1.5},"encoding":{"x":{"field":"bc","type":"quantitative","title":null},"x2":{"field":"bc2"},"y":{"datum":0,"type":"quantitative"}}},
{"transform":[{"filter":"datum.k=='r68'"}],"mark":"rule","encoding":{"x":{"field":"bc","type":"quantitative","title":null},"x2":{"field":"bc2"},"y":{"datum":-0.12,"type":"quantitative"}}},
{"transform":[{"filter":"datum.k=='r95'"}],"mark":"rule","encoding":{"x":{"field":"bc","type":"quantitative","title":null},"x2":{"field":"bc2"},"y":{"datum":-0.25,"type":"quantitative"}}},
{"transform":[{"filter":"datum.k=='post'"}],"mark":"area","encoding":{"x":{"field":"bc","type":"quantitative","title":null},"y":{"field":"p","type":"quantitative","title":null},"y2":{"datum":0}}},
{"transform":[{"filter":"datum.k=='lab'"}],"mark":{"type":"text","align":"left","baseline":"alphabetic","fontSize":18,"fontStyle":"italic"},"encoding":{"x":{"datum":5521,"type":"quantitative"},"y":{"datum":0,"type":"quantitative"},"text":{"field":"name"}}}
]},
{"width":1069,"height":33,"data":{"name":"all"},"transform":[{"filter":"datum.r==18"}],"layer":[
{"transform":[{"filter":"datum.k=='lab'"}],"mark":"rule","encoding":{"x":{"datum":5569,"type":"quantitative","scale":{"domain":[5589,4104],"nice":false,"zero":false},"axis":{"values":[5400,5200,5000,4800,4600,4400,4200],"title":null}},"y":{"datum":1.2,"type":"quantitative","scale":{"domain":[-0.45,1.2],"nice":false,"zero":false},"axis":{"title":null}},"y2":{"datum":-0.45}}},
{"transform":[{"filter":"datum.k=='lab'"}],"mark":{"type":"rule","color":"#999","strokeDash":[1,7]},"encoding":{"x":{"datum":5589,"type":"quantitative"},"x2":{"datum":4104},"y":{"datum":0.83,"type":"quantitative"}}},
{"transform":[{"filter":"datum.k=='lab'"}],"mark":"rule","encoding":{"x":{"datum":5519,"type":"quantitative"},"y":{"datum":0.25,"type":"quantitative"},"y2":{"datum":-0.45}}},
{"transform":[{"filter":"datum.k=='lab'"}],"mark":"rule","encoding":{"x":{"datum":5519,"type":"quantitative"},"x2":{"datum":5510},"y":{"datum":0.25,"type":"quantitative"}}},
{"transform":[{"filter":"datum.k=='lab'"}],"mark":{"type":"text","align":"left","baseline":"alphabetic","fontSize":18},"encoding":{"x":{"datum":5469,"type":"quantitative"},"y":{"datum":0,"type":"quantitative"},"text":{"field":"name"}}}
]},
{"width":1069,"height":34,"data":{"name":"all"},"transform":[{"filter":"datum.r==19"}],"layer":[
{"transform":[{"filter":"datum.k=='lab'"}],"mark":"rule","encoding":{"x":{"datum":5569,"type":"quantitative","scale":{"domain":[5589,4104],"nice":false,"zero":false},"axis":{"values":[5400,5200,5000,4800,4600,4400,4200],"title":null}},"y":{"datum":1.25,"type":"quantitative","scale":{"domain":[-0.45,1.25],"nice":false,"zero":false},"axis":{"title":null}},"y2":{"datum":-0.45}}},
{"transform":[{"filter":"datum.k=='lab'"}],"mark":{"type":"rule","color":"#999","strokeDash":[1,7]},"encoding":{"x":{"datum":5589,"type":"quantitative"},"x2":{"datum":4104},"y":{"datum":0.83,"type":"quantitative"}}},
{"transform":[{"filter":"datum.k=='lab'"}],"mark":"rule","encoding":{"x":{"datum":5519,"type":"quantitative"},"y":{"datum":1.25,"type":"quantitative"},"y2":{"datum":-0.4}}},
{"transform":[{"filter":"datum.k=='lab'"}],"mark":"rule","encoding":{"x":{"datum":5519,"type":"quantitative"},"x2":{"datum":5510},"y":{"datum":-0.4,"type":"quantitative"}}},
{"transform":[{"filter":"datum.k=='base'"}],"mark":{"type":"rule","strokeWidth":1.5},"encoding":{"x":{"field":"bc","type":"quantitative","title":null},"x2":{"field":"bc2"},"y":{"datum":0,"type":"quantitative"}}},
{"transform":[{"filter":"datum.k=='r68'"}],"mark":"rule","encoding":{"x":{"field":"bc","type":"quantitative","title":null},"x2":{"field":"bc2"},"y":{"datum":-0.12,"type":"quantitative"}}},
{"transform":[{"filter":"datum.k=='r95'"}],"mark":"rule","encoding":{"x":{"field":"bc","type":"quantitative","title":null},"x2":{"field":"bc2"},"y":{"datum":-0.25,"type":"quantitative"}}},
{"transform":[{"filter":"datum.k=='prior'"}],"mark":{"type":"line","strokeWidth":1},"encoding":{"x":{"field":"bc","type":"quantitative","title":null},"y":{"field":"p","type":"quantitative","title":null}}},
{"transform":[{"filter":"datum.k=='post'"}],"mark":"area","encoding":{"x":{"field":"bc","type":"quantitative","title":null},"y":{"field":"p","type":"quantitative","title":null},"y2":{"datum":0}}},
{"transform":[{"filter":"datum.k=='lab'"}],"mark":{"type":"text","align":"left","baseline":"alphabetic","fontSize":18,"fontStyle":"italic"},"encoding":{"x":{"datum":5469,"type":"quantitative"},"y":{"datum":0,"type":"quantitative"},"text":{"field":"name"}}}
]},
{"width":1069,"height":41,"data":{"name":"all"},"transform":[{"filter":"datum.r==20"}],"layer":[
{"transform":[{"filter":"datum.k=='lab'"}],"mark":"rule","encoding":{"x":{"datum":5569,"type":"quantitative","scale":{"domain":[5589,4104],"nice":false,"zero":false},"axis":{"values":[5400,5200,5000,4800,4600,4400,4200],"labels":true,"labelExpr":"datum.value + 'BC'","labelFontSize":18,"labelPadding":17,"labelColor":"black","domain":true,"domainColor":"black","title":"Calendar date","titleFontSize":17,"titleFontWeight":"normal","titleColor":"black","titleX":549,"titleY":57,"titleAlign":"center","titleBaseline":"alphabetic"}},"y":{"datum":1.2,"type":"quantitative","scale":{"domain":[-0.85,1.2],"nice":false,"zero":false},"axis":{"title":null}},"y2":{"datum":-0.5}}},
{"transform":[{"filter":"datum.k=='lab'"}],"mark":"rule","encoding":{"x":{"datum":5569,"type":"quantitative"},"x2":{"datum":5555},"y":{"datum":-0.5,"type":"quantitative"}}},
{"transform":[{"filter":"datum.k=='lab'"}],"mark":{"type":"rule","color":"#999","strokeDash":[1,7]},"encoding":{"x":{"datum":5589,"type":"quantitative"},"x2":{"datum":4104},"y":{"datum":0.83,"type":"quantitative"}}},
{"transform":[{"filter":"datum.k=='tick'"}],"mark":"rule","encoding":{"x":{"field":"bc","type":"quantitative"},"y":{"datum":-0.85,"type":"quantitative"},"y2":{"datum":-0.6}}},
{"transform":[{"filter":"datum.k=='base'"}],"mark":{"type":"rule","strokeWidth":1.5},"encoding":{"x":{"field":"bc","type":"quantitative"},"x2":{"field":"bc2"},"y":{"datum":0,"type":"quantitative"}}},
{"transform":[{"filter":"datum.k=='r68'"}],"mark":"rule","encoding":{"x":{"field":"bc","type":"quantitative"},"x2":{"field":"bc2"},"y":{"datum":-0.12,"type":"quantitative"}}},
{"transform":[{"filter":"datum.k=='r95'"}],"mark":"rule","encoding":{"x":{"field":"bc","type":"quantitative"},"x2":{"field":"bc2"},"y":{"datum":-0.25,"type":"quantitative"}}},
{"transform":[{"filter":"datum.k=='post'"}],"mark":"area","encoding":{"x":{"field":"bc","type":"quantitative"},"y":{"field":"p","type":"quantitative"},"y2":{"datum":0}}},
{"transform":[{"filter":"datum.k=='lab'"}],"mark":{"type":"text","align":"left","baseline":"alphabetic","fontSize":18,"fontStyle":"italic"},"encoding":{"x":{"datum":5521,"type":"quantitative"},"y":{"datum":0,"type":"quantitative"},"text":{"field":"name"}}}
]}
]
}
